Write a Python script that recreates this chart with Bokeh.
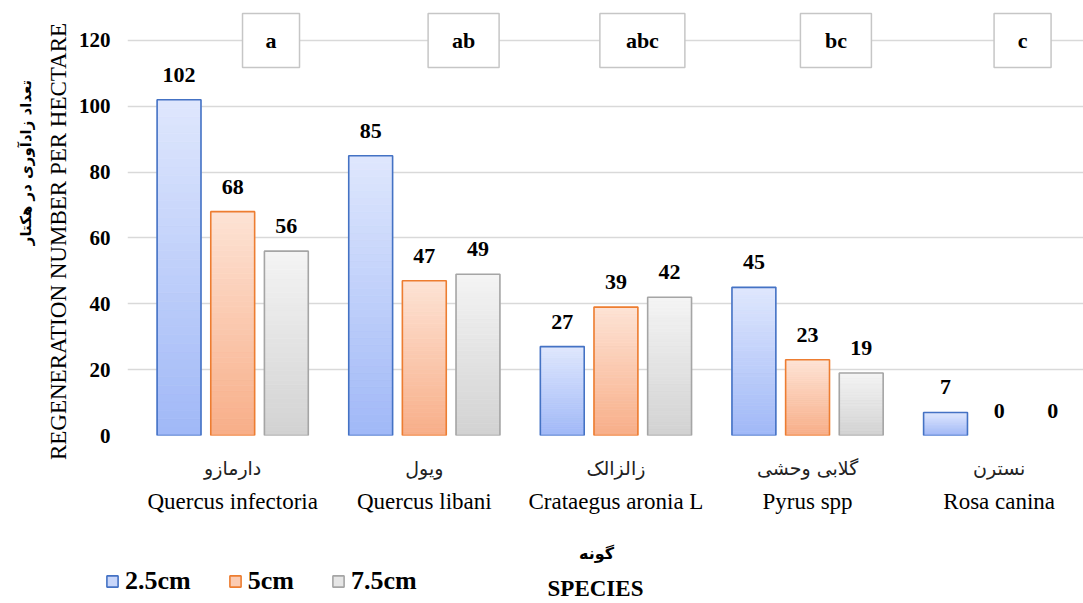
import math
from bokeh.plotting import figure
from bokeh.layouts import column, row
from bokeh.models import (Range1d, FixedTicker, LinearAxis, Label, Legend,
                          LegendItem, ColumnDataSource)
from bokeh.embed import file_html
from bokeh.resources import INLINE
from bokeh.core.properties import value

# ---------------- data ----------------
species_fa = ["دارمازو", "ویول", "زالزالک", "گلابی وحشی", "نسترن"]
species_en = ["Quercus infectoria", "Quercus libani", "Crataegus aronia L", "Pyrus spp", "Rosa canina"]
series_names = ["2.5cm", "5cm", "7.5cm"]
v_2_5cm = [102, 85, 27, 45, 7]
v_5cm = [68, 47, 39, 23, 0]
v_7_5cm = [56, 49, 42, 19, 0]
letters = ["a", "ab", "abc", "bc", "c"]
y_ticks = [0, 20, 40, 60, 80, 100, 120]
y_title_en = "REGENERATION NUMBER PER HECTARE"
y_title_fa = "تعداد زادآوری در هکتار"
x_title_fa = "گونه"
x_title_en = "SPECIES"

series_values = [v_2_5cm, v_5cm, v_7_5cm]

# ---------------- style ----------------
SERIF = "Liberation Serif"
ARAB = "DejaVu Sans"
offsets = [-0.28, 0.0, 0.28]
bar_w = 0.229
borders = ["#4472c4", "#ed7d31", "#a5a5a5"]
tops = [(0xdf, 0xe7, 0xfd), (0xfd, 0xe3, 0xd5), (0xf4, 0xf4, 0xf4)]
bottoms = [(0xa0, 0xb8, 0xf7), (0xf8, 0xae, 0x88), (0xd2, 0xd2, 0xd2)]
mids = ["#c8d6fa", "#fbcbb2", "#e6e6e6"]
letter_shift = [0.20, 0.205, 0.138, 0.148, 0.122]

W, H = 1083, 603
TOP_H = 530      # height of chart part
BOT_H = H - TOP_H
LEFT_W = 75
RIGHT_W = W - LEFT_W


def mix(c1, c2, t):
    return "#%02x%02x%02x" % tuple(int(round(a + (b - a) * t)) for a, b in zip(c1, c2))


def blank(w, h, xr, yr):
    f = figure(width=w, height=h, x_range=xr, y_range=yr,
               output_backend="svg", toolbar_location=None,
               x_axis_location=None, y_axis_location=None,
               min_border=0)
    f.outline_line_color = None
    f.xgrid.visible = False
    f.ygrid.visible = False
    f.background_fill_color = "white"
    f.border_fill_color = "white"
    f.frame_align = False
    return f


# ---------------- main chart ----------------
p = figure(width=RIGHT_W, height=TOP_H,
           x_range=Range1d(-0.549, 4.44), y_range=Range1d(0, 132.15),
           output_backend="svg", toolbar_location=None,
           min_border_left=125 - LEFT_W, min_border_right=0, min_border_top=0,
           min_border_bottom=TOP_H - 435)
p.outline_line_color = None
p.background_fill_color = "white"
p.frame_align = False

p.xgrid.visible = False
p.ygrid.ticker = FixedTicker(ticks=y_ticks)
p.ygrid.grid_line_color = "#d9d9d9"
p.ygrid.grid_line_width = 1.5

p.yaxis.ticker = FixedTicker(ticks=y_ticks)
p.yaxis.axis_line_color = None
p.yaxis.major_tick_line_color = None
p.yaxis.minor_tick_line_color = None
p.yaxis.major_label_text_font = SERIF
p.yaxis.major_label_text_font_style = "bold"
p.yaxis.major_label_text_font_size = "21px"
p.yaxis.major_label_text_color = "black"
p.yaxis.major_label_standoff = 11

xt = list(range(len(species_en)))
p.xaxis.ticker = FixedTicker(ticks=xt)
p.xaxis.major_label_overrides = {i: species_fa[i] for i in xt}
p.xaxis.axis_line_color = None
p.xaxis.major_tick_line_color = None
p.xaxis.minor_tick_line_color = None
p.xaxis.major_label_text_font = ARAB
p.xaxis.major_label_text_font_size = "19px"
p.xaxis.major_label_text_color = "#222222"
p.xaxis.major_label_standoff = 15

ax2 = LinearAxis(ticker=FixedTicker(ticks=xt),
                 major_label_overrides={i: species_en[i] for i in xt})
ax2.axis_line_color = None
ax2.major_tick_line_color = None
ax2.minor_tick_line_color = None
ax2.major_label_text_font = SERIF
ax2.major_label_text_font_size = "23px"
ax2.major_label_text_color = "black"
ax2.major_label_standoff = 1
p.add_layout(ax2, "below")

N = 40
for s, vals in enumerate(series_values):
    l, r, b, t, c = [], [], [], [], []
    xs, hs = [], []
    for i, v in enumerate(vals):
        if v <= 0:
            continue
        x = i + offsets[s]
        xs.append(x)
        hs.append(v)
        for k in range(N):
            l.append(x - bar_w / 2)
            r.append(x + bar_w / 2)
            b.append(v * k / N)
            t.append(v * (k + 1) / N)
            c.append(mix(bottoms[s], tops[s], (k + 0.5) / N))
    p.quad(left=l, right=r, bottom=b, top=t, fill_color=c, line_color=c,
           line_width=0.8)
    p.vbar(x=xs, top=hs, width=bar_w, fill_color=None,
           line_color=borders[s], line_width=1.6)

    src = ColumnDataSource(dict(x=[i + offsets[s] for i in range(len(vals))],
                                y=vals, t=[str(v) for v in vals]))
    p.text(x="x", y="y", text="t", source=src, text_align="center",
           text_baseline="alphabetic", y_offset=-25,
           text_font=value(SERIF), text_font_style="bold",
           text_font_size="22px", text_color="black")

lx = [i + letter_shift[i] for i in range(len(letters))]
ly = [120] * len(letters)
lw = [43 + 14 * len(s) for s in letters]
p.rect(x=lx, y=ly, width=lw, height=54, width_units="screen",
       height_units="screen", fill_color="white", line_color="#c6c6c6",
       line_width=1.5)
p.text(x=lx, y=ly, text=letters, text_align="center", text_baseline="middle",
       text_font=value(SERIF), text_font_style="bold", text_font_size="22px",
       text_color="black")

# ---------------- left strip: y titles (pixel coords, y down) ----------------
pl = blank(LEFT_W, H, Range1d(0, LEFT_W), Range1d(H, 0))
pl.add_layout(Label(x=58, y=241, angle=math.pi / 2, text=y_title_en,
                    text_align="center", text_baseline="middle",
                    text_font=SERIF, text_font_size="23px",
                    text_color="black"))
pl.add_layout(Label(x=25, y=162, angle=math.pi / 2, text=y_title_fa,
                    text_align="center", text_baseline="middle",
                    text_font=ARAB, text_font_style="bold",
                    text_font_size="15px", text_color="black"))

# ---------------- bottom strip: legend + x titles (page px coords) ----------
pb = blank(RIGHT_W, BOT_H, Range1d(LEFT_W, W), Range1d(TOP_H + BOT_H, TOP_H))
items = []
for s in range(3):
    r_ = pb.vbar(x=[float("nan")], top=[float("nan")], width=10,
                 fill_color=mids[s], line_color=borders[s], line_width=1.6)
    items.append(LegendItem(label=series_names[s], renderers=[r_]))
legend = Legend(items=items, orientation="horizontal",
                location=(105 - LEFT_W, 7))
legend.label_text_font = SERIF
legend.label_text_font_style = "bold"
legend.label_text_font_size = "26px"
legend.label_text_color = "black"
legend.glyph_width = 14
legend.glyph_height = 14
legend.label_standoff = 6
legend.spacing = 37
legend.padding = 2
legend.margin = 0
legend.border_line_color = None
legend.background_fill_alpha = 0
pb.add_layout(legend)
pb.add_layout(Label(x=596, y=553, text=x_title_fa, text_align="center",
                    text_baseline="middle", text_font=ARAB,
                    text_font_style="bold", text_font_size="16px",
                    text_color="black"))
pb.add_layout(Label(x=595, y=588, text=x_title_en, text_align="center",
                    text_baseline="middle", text_font=SERIF,
                    text_font_style="bold", text_font_size="23px",
                    text_color="black"))

layout = row(pl, column(p, pb, spacing=0), spacing=0)
open("out.html", "w").write(file_html(layout, INLINE))
